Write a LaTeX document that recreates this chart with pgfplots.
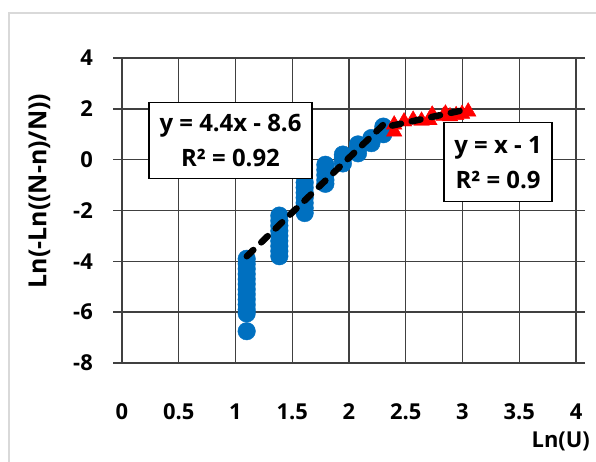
\documentclass[border=0pt]{standalone}
\usepackage{pgfplots}
\pgfplotsset{compat=1.18}
\usepackage{fontspec}
\setmainfont{Open Sans}
\definecolor{ptblue}{HTML}{0070C0}
\definecolor{gridc}{HTML}{404040}
\definecolor{framec}{HTML}{D9D9D9}
\begin{document}
\begin{tikzpicture}
\draw[framec, line width=1.5bp] (9bp,-20bp) -- (9bp,449bp) -- (620bp,449bp);
\begin{axis}[
  set layers, mark layer=like plot,
  at={(122bp,99bp)}, anchor=south west,
  width=454bp, height=305bp, scale only axis,
  xmin=0, xmax=4, ymin=-8, ymax=4,
  xtick={0,0.5,1,1.5,2,2.5,3,3.5,4},
  ytick={-8,-6,-4,-2,0,2,4},
  xticklabels={0,0.5,1,1.5,2,2.5,3,3.5,4},
  yticklabels={-8,-6,-4,-2,0,2,4},
  grid=major,
  major grid style={gridc, line width=1.4bp},
  axis line style={gridc, line width=1.4bp},
  tick style={gridc, line width=1.4bp},
  tick align=outside, major tick length=9bp,
  xtick style={draw=none},
  ticklabel style={font=\bfseries\fontsize{22}{28}\selectfont},
  yticklabel style={anchor=east, inner sep=0pt, xshift=-20bp},
  xticklabel style={anchor=center, inner sep=0pt, yshift=-40bp},
  xlabel={Ln(U)},
  ylabel={Ln(-Ln((N-n)/N))},
  label style={font=\bfseries\fontsize{22}{28}\selectfont},
  xlabel style={at={(axis description cs:1.031,-0.256)}, anchor=east, inner sep=0pt},
  ylabel style={at={(axis description cs:-0.182,0.564)}, anchor=center, inner sep=0pt, font=\bfseries\fontsize{25}{30}\selectfont},
]
\addplot[only marks, mark=*, mark size=8.8bp, color=ptblue, mark options={draw=ptblue, fill=ptblue}] coordinates {
  (1.0986,-3.9) (1.0986,-4.1) (1.0986,-4.3) (1.0986,-4.5) (1.0986,-4.7) (1.0986,-4.9)
  (1.0986,-5.1) (1.0986,-5.3) (1.0986,-5.5) (1.0986,-5.7) (1.0986,-5.9) (1.0986,-6.05) (1.0986,-6.75)
  (1.3863,-2.2) (1.3863,-2.4) (1.3863,-2.6) (1.3863,-2.8) (1.3863,-3.0) (1.3863,-3.2) (1.3863,-3.4) (1.3863,-3.6) (1.3863,-3.8)
  (1.6094,-0.9) (1.6094,-1.1) (1.6094,-1.3) (1.6094,-1.5) (1.6094,-1.7) (1.6094,-1.9) (1.6094,-2.1)
  (1.7918,-0.2) (1.7918,-0.4) (1.7918,-0.6) (1.7918,-0.8) (1.7918,-0.95)
  (1.9459,-0.15) (1.9459,0.05) (1.9459,0.2)
  (2.0794,0.25) (2.0794,0.45) (2.0794,0.6)
  (2.1972,0.65) (2.1972,0.85)
  (2.3026,1.0) (2.3026,1.15) (2.3026,1.3)
};
\addplot[only marks, mark=triangle*, mark size=9bp, color=red, mark options={draw=red, fill=red}] coordinates {
  (2.398,1.1) (2.398,1.38) (2.485,1.5) (2.565,1.57) (2.639,1.53) (2.708,1.55)
  (2.733,1.77) (2.833,1.72) (2.85,1.81) (2.89,1.7) (2.944,1.75) (2.996,1.8) (3.05,1.89)
};
\addplot[black, line width=6.5bp, dash pattern=on 9bp off 11bp, line cap=round] coordinates {(1.10,-3.8) (2.32,1.45)};
\addplot[black, line width=6.5bp, dash pattern=on 9bp off 11bp, line cap=round] coordinates {(2.38,1.34) (3.06,2.0)};
\node[draw=black, line width=1.3bp, fill=white, minimum width=163bp, minimum height=76bp, inner sep=0pt, align=center, font=\bfseries\fontsize{24}{35}\selectfont] at (axis cs:0.956,0.75) {y = 4.4x - 8.6\\R² = 0.92};
\node[draw=black, line width=1.3bp, fill=white, minimum width=108bp, minimum height=79bp, inner sep=0pt, align=center, font=\bfseries\fontsize{24}{35}\selectfont] at (axis cs:3.313,-0.1) {y = x - 1\\R² = 0.9};
\end{axis}
\pgfresetboundingbox
\useasboundingbox (0,0) rectangle (596bp,462bp);
\end{tikzpicture}
\end{document}
